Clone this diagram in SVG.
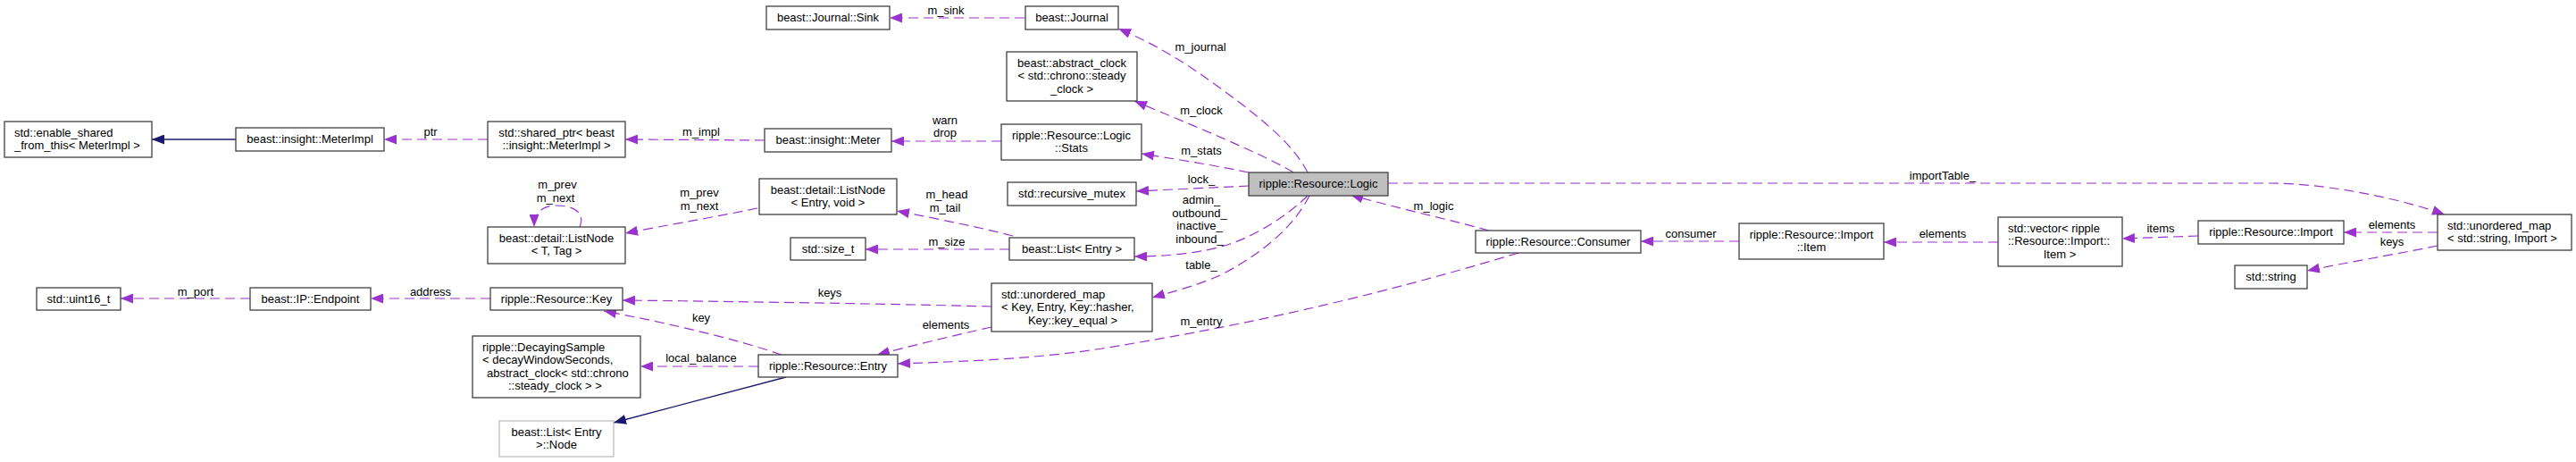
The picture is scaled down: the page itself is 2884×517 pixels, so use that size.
<svg xmlns="http://www.w3.org/2000/svg" width="2884" height="517" viewBox="0 0 2884 517">
<style>
text{font-family:"Liberation Sans",Arial,sans-serif;font-size:13px;fill:#000}
.n rect{fill:#fff;stroke:#404040;stroke-width:1.3}
.n text{text-anchor:middle}
.n text.l{text-anchor:start}
.e path{fill:none}
.d{stroke:#9a32cd;stroke-width:1.2;stroke-dasharray:11,6;marker-end:url(#ap)}
.s{stroke:#191970;stroke-width:1.3;marker-end:url(#ab)}
.lbl text{text-anchor:middle}
</style>
<defs>
<marker id="ap" markerWidth="15" markerHeight="11" refX="14" refY="5.5" orient="auto" markerUnits="userSpaceOnUse"><path d="M0,0 L14,5.5 L0,11 z" fill="#9a32cd"/></marker>
<marker id="ab" markerWidth="15" markerHeight="11" refX="14" refY="5.5" orient="auto" markerUnits="userSpaceOnUse"><path d="M0,0 L14,5.5 L0,11 z" fill="#191970"/></marker>
</defs>
<rect width="2884" height="517" fill="#fff"/>
<g id="connectors" class="e">
<path class="s" d="M264,156 L170,156"/>
<path class="d" d="M546,156 L430,156"/>
<path class="d" d="M856,157 L700,156"/>
<path class="d" d="M1147,20 L996,20"/>
<path class="d" d="M1121,158 L998,158"/>
<path class="d" d="M1464,193 C1450,165 1420,138 1368,100 C1330,72 1295,50 1252,32"/>
<path class="d" d="M1448,193 C1420,175 1330,138 1270,113"/>
<path class="d" d="M1398,193 C1360,185 1310,177 1278,172"/>
<path class="d" d="M1398,208 C1360,210 1310,212 1272,214"/>
<path class="d" d="M1464,219 C1445,238 1410,262 1377,273 C1345,284 1300,287 1270,287"/>
<path class="d" d="M1466,219 C1450,250 1420,280 1368,307 C1340,320 1310,327 1290,333"/>
<path class="d" d="M1554,205 L2540,205 C2600,205 2680,220 2737,240"/>
<path class="d" d="M1667,258 C1620,245 1560,232 1512,218"/>
<path class="d" d="M1700,283 C1560,325 1420,360 1234,390 C1150,403 1060,405 1005,407"/>
<path class="d" d="M1947,270 L1837,270"/>
<path class="d" d="M2237,271 L2109,271"/>
<path class="d" d="M2461,264 L2376,267"/>
<path class="d" d="M2729,260 L2624,260"/>
<path class="d" d="M2729,275 C2680,285 2620,295 2583,303"/>
<path class="d" d="M1134,264 C1100,255 1050,245 1004,236"/>
<path class="d" d="M1130,279 L969,279"/>
<path class="d" d="M848,233 C800,243 740,253 700,261"/>
<path class="d" d="M649,254 C655,240 645,230 623,230 C605,230 598,240 598,254"/>
<path class="d" d="M1110,343 C1000,340 800,337 697,336"/>
<path class="d" d="M1110,366 C1070,375 1020,387 982,397"/>
<path class="d" d="M875,397 C820,378 740,360 676,348"/>
<path class="d" d="M849,410 L717,410"/>
<path class="s" d="M880,422 L687,473"/>
<path class="d" d="M549,334 L415,334"/>
<path class="d" d="M280,334 L135,334"/>
</g>
<g id="labels" class="lbl">
<text x="482" y="152">ptr</text>
<text x="785" y="152">m_impl</text>
<text x="1059" y="16">m_sink</text>
<text x="1058" y="139">warn</text>
<text x="1058" y="153">drop</text>
<text x="1344" y="57">m_journal</text>
<text x="1345" y="128">m_clock</text>
<text x="1345" y="173">m_stats</text>
<text x="1345" y="205">lock_</text>
<text x="1345" y="228">admin_</text>
<text x="1343" y="243">outbound_</text>
<text x="1343" y="257">inactive_</text>
<text x="1343" y="272">inbound_</text>
<text x="1345" y="301">table_</text>
<text x="2175" y="201">importTable_</text>
<text x="1605" y="235">m_logic</text>
<text x="1345" y="364">m_entry</text>
<text x="1893" y="266">consumer</text>
<text x="2175" y="266">elements</text>
<text x="2419" y="260">items</text>
<text x="2678" y="256">elements</text>
<text x="2678" y="275">keys</text>
<text x="1060" y="222">m_head</text>
<text x="1058" y="237">m_tail</text>
<text x="1060" y="275">m_size</text>
<text x="783" y="220">m_prev</text>
<text x="783" y="235">m_next</text>
<text x="624" y="211">m_prev</text>
<text x="622" y="226">m_next</text>
<text x="929" y="332">keys</text>
<text x="1059" y="368">elements</text>
<text x="785" y="360">key</text>
<text x="785" y="405">local_balance</text>
<text x="482" y="331">address</text>
<text x="219" y="331">m_port</text>
</g>
<g id="n_enable_shared" class="n"><rect x="5" y="136" width="165" height="40"/><text class="l" x="16" y="152.5">std::enable_shared</text><text class="l" x="16" y="167">_from_this&lt; MeterImpl &gt;</text></g>
<g id="n_meterimpl" class="n"><rect x="264" y="143" width="166" height="26"/><text x="347" y="160">beast::insight::MeterImpl</text></g>
<g id="n_shared_ptr" class="n"><rect x="546" y="136" width="154" height="40"/><text x="623" y="152.5">std::shared_ptr&lt; beast</text><text x="623" y="167">::insight::MeterImpl &gt;</text></g>
<g id="n_journal_sink" class="n"><rect x="858" y="7" width="138" height="26"/><text x="927" y="24">beast::Journal::Sink</text></g>
<g id="n_journal" class="n"><rect x="1148" y="7" width="104" height="26"/><text x="1200" y="24">beast::Journal</text></g>
<g id="n_abstract_clock" class="n"><rect x="1127" y="58" width="146" height="55"/><text x="1200" y="74.5">beast::abstract_clock</text><text x="1200" y="89">&lt; std::chrono::steady</text><text x="1200" y="103.5">_clock &gt;</text></g>
<g id="n_meter" class="n"><rect x="856" y="144" width="142" height="26"/><text x="927" y="161">beast::insight::Meter</text></g>
<g id="n_stats" class="n"><rect x="1121" y="139" width="157" height="40"/><text x="1199.5" y="155.5">ripple::Resource::Logic</text><text x="1199.5" y="170">::Stats</text></g>
<g id="n_recursive_mutex" class="n"><rect x="1128" y="204" width="144" height="26"/><text x="1200" y="221">std::recursive_mutex</text></g>
<g id="n_logic" class="n"><rect x="1398" y="193" width="156" height="26" style="fill:#bfbfbf"/><text x="1476" y="210">ripple::Resource::Logic</text></g>
<g id="n_listnode_entry" class="n"><rect x="850" y="200" width="154" height="40"/><text x="927" y="216.5">beast::detail::ListNode</text><text x="927" y="231">&lt; Entry, void &gt;</text></g>
<g id="n_listnode_t" class="n"><rect x="546" y="254" width="154" height="41"/><text x="623" y="270.5">beast::detail::ListNode</text><text x="623" y="285">&lt; T, Tag &gt;</text></g>
<g id="n_size_t" class="n"><rect x="885" y="266" width="84" height="25"/><text x="927" y="283">std::size_t</text></g>
<g id="n_list_entry" class="n"><rect x="1130" y="266" width="140" height="25"/><text x="1200" y="283">beast::List&lt; Entry &gt;</text></g>
<g id="n_uint16" class="n"><rect x="41" y="322" width="94" height="25"/><text x="88" y="339">std::uint16_t</text></g>
<g id="n_endpoint" class="n"><rect x="280" y="322" width="135" height="25"/><text x="347.5" y="339">beast::IP::Endpoint</text></g>
<g id="n_key" class="n"><rect x="549" y="322" width="148" height="25"/><text x="623" y="339">ripple::Resource::Key</text></g>
<g id="n_umap_key" class="n"><rect x="1110" y="317" width="180" height="54"/><text class="l" x="1121" y="333.5">std::unordered_map</text><text class="l" x="1121" y="348">&lt; Key, Entry, Key::hasher,</text><text x="1201" y="362.5">Key::key_equal &gt;</text></g>
<g id="n_consumer" class="n"><rect x="1652" y="258" width="185" height="25"/><text x="1744.5" y="275">ripple::Resource::Consumer</text></g>
<g id="n_import_item" class="n"><rect x="1947" y="250" width="162" height="40"/><text x="2028" y="266.5">ripple::Resource::Import</text><text x="2028" y="281">::Item</text></g>
<g id="n_vector" class="n"><rect x="2237" y="243" width="139" height="55"/><text class="l" x="2248" y="259.5">std::vector&lt; ripple</text><text class="l" x="2248" y="274">::Resource::Import::</text><text x="2306" y="288.5">Item &gt;</text></g>
<g id="n_import" class="n"><rect x="2461" y="247" width="163" height="26"/><text x="2542.5" y="264">ripple::Resource::Import</text></g>
<g id="n_umap_string" class="n"><rect x="2729" y="240" width="150" height="40"/><text class="l" x="2740" y="256.5">std::unordered_map</text><text class="l" x="2740" y="271">&lt; std::string, Import &gt;</text></g>
<g id="n_string" class="n"><rect x="2502" y="297" width="81" height="26"/><text x="2542.5" y="314">std::string</text></g>
<g id="n_decaying" class="n"><rect x="529" y="376" width="188" height="69"/><text class="l" x="540" y="392.5">ripple::DecayingSample</text><text class="l" x="540" y="407">&lt; decayWindowSeconds,</text><text class="l" x="545" y="421.5">abstract_clock&lt; std::chrono</text><text class="l" x="569" y="436">::steady_clock &gt; &gt;</text></g>
<g id="n_entry" class="n"><rect x="849" y="397" width="156" height="25"/><text x="927" y="414">ripple::Resource::Entry</text></g>
<g id="n_list_node" class="n"><rect x="559" y="471" width="128" height="40" style="stroke:#bfbfbf"/><text x="623" y="487.5">beast::List&lt; Entry</text><text x="623" y="502">&gt;::Node</text></g>
</svg>
